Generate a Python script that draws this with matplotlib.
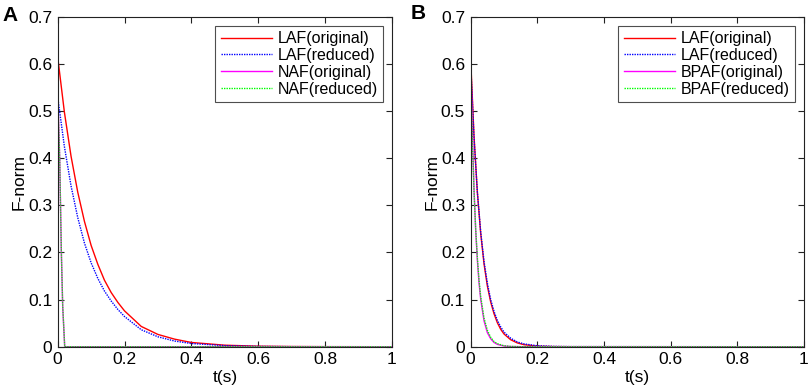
import matplotlib.pyplot as plt

plt.rcParams['font.family'] = ['Liberation Sans', 'DejaVu Sans']

# panel A
t_laf_a = [0, 0.02, 0.04, 0.06, 0.08, 0.1, 0.12, 0.14, 0.16, 0.18, 0.2, 0.25, 0.3, 0.35, 0.4, 0.5, 0.6, 0.7, 0.8, 1.0]
laf_orig_a = [0.615, 0.498, 0.404, 0.328, 0.266, 0.215, 0.175, 0.141, 0.115, 0.094, 0.076, 0.043, 0.026, 0.016, 0.009, 0.0032, 0.0011, 0.0004, 0.00014, 0]
laf_red_a = [0.53, 0.425, 0.341, 0.274, 0.22, 0.178, 0.145, 0.118, 0.097, 0.079, 0.064, 0.036, 0.021, 0.012, 0.0068, 0.0023, 0.0007, 0.0002, 0.0001, 0]
t_naf_a = [0, 0.006, 0.011, 0.015, 0.021, 1.0]
naf_orig_a = [0.54, 0.40, 0.20, 0.085, 0, 0]
naf_red_a = [0.53, 0.40, 0.20, 0.088, 0, 0]

# panel B
t_laf_b = [0, 0.01, 0.02, 0.03, 0.04, 0.05, 0.06, 0.07, 0.08, 0.09, 0.1, 0.12, 0.14, 0.16, 0.2, 0.25, 0.3, 1.0]
laf_orig_b = [0.61, 0.447, 0.328, 0.241, 0.176, 0.129, 0.095, 0.070, 0.051, 0.037, 0.027, 0.0148, 0.008, 0.0043, 0.0012, 0.0003, 0.0001, 0]
laf_red_b = [0.60, 0.444, 0.329, 0.244, 0.181, 0.135, 0.100, 0.075, 0.056, 0.042, 0.031, 0.018, 0.010, 0.006, 0.002, 0.0006, 0.0002, 0]
t_bpaf_b = [0, 0.005, 0.01, 0.015, 0.02, 0.025, 0.03, 0.04, 0.05, 0.06, 0.07, 0.08, 0.1, 0.12, 0.15, 1.0]
bpaf_orig_b = [0.61, 0.452, 0.335, 0.248, 0.184, 0.136, 0.101, 0.055, 0.030, 0.017, 0.009, 0.005, 0.0015, 0.0004, 0.0001, 0]
bpaf_red_b = [0.58, 0.44, 0.33, 0.25, 0.19, 0.142, 0.107, 0.061, 0.035, 0.020, 0.011, 0.0065, 0.002, 0.0006, 0.0001, 0]

xticks = [0, 0.2, 0.4, 0.6, 0.8, 1]
xlabels = ['0', '0.2', '0.4', '0.6', '0.8', '1']
yticks = [0, 0.1, 0.2, 0.3, 0.4, 0.5, 0.6, 0.7]
ylabels = ['0', '0.1', '0.2', '0.3', '0.4', '0.5', '0.6', '0.7']

dot = (0, (1, 0.8))

fig = plt.figure(figsize=(8.09, 3.90), dpi=100)
ax1 = fig.add_axes([0.0713, 0.111, 0.4132, 0.846])
ax2 = fig.add_axes([0.5818, 0.111, 0.4120, 0.846])

ax1.plot(t_laf_a, laf_orig_a, color='#ff0000', lw=1, label='LAF(original)')
ax1.plot(t_laf_a, laf_red_a, color='#0000ff', lw=1, ls=dot, label='LAF(reduced)')
ax1.plot(t_naf_a, naf_orig_a, color='#ff00ff', lw=1, label='NAF(original)')
ax1.plot(t_naf_a, naf_red_a, color='#00ff00', lw=1, ls=dot, label='NAF(reduced)')

ax2.plot(t_laf_b, laf_orig_b, color='#ff0000', lw=1, label='LAF(original)')
ax2.plot(t_laf_b, laf_red_b, color='#0000ff', lw=1, ls=dot, label='LAF(reduced)')
ax2.plot(t_bpaf_b, bpaf_orig_b, color='#ff00ff', lw=1, label='BPAF(original)')
ax2.plot(t_bpaf_b, bpaf_red_b, color='#00ff00', lw=1, ls=dot, label='BPAF(reduced)')

for ax in (ax1, ax2):
    ax.set_xlim(0, 1)
    ax.set_ylim(0, 0.7)
    ax.set_xticks(xticks)
    ax.set_xticklabels(xlabels)
    ax.set_yticks(yticks)
    ax.set_yticklabels(ylabels)
    ax.tick_params(direction='in', top=True, right=True, length=4, width=0.8,
                   labelsize=12.5, colors='#222222', labelcolor='black', pad=4)
    for s in ax.spines.values():
        s.set_color('#222222')
        s.set_linewidth(0.8)
    ax.set_xlabel('t(s)', fontsize=12.5, labelpad=2)
    ax.set_ylabel('F-norm', fontsize=12.5, labelpad=1)
    leg = ax.legend(loc='upper right', fontsize=11.5, handlelength=3.2, frameon=True,
                    fancybox=False, borderaxespad=0.55, labelspacing=0.12,
                    handletextpad=0.35, borderpad=0.35)
    leg.get_frame().set_edgecolor('#222222')
    leg.get_frame().set_linewidth(0.8)

fig.text(0.003, 0.985, 'A', fontsize=15, fontweight='bold', va='top', ha='left')
fig.text(0.508, 0.99, 'B', fontsize=15, fontweight='bold', va='top', ha='left')

fig.savefig('out.png', dpi=100)
